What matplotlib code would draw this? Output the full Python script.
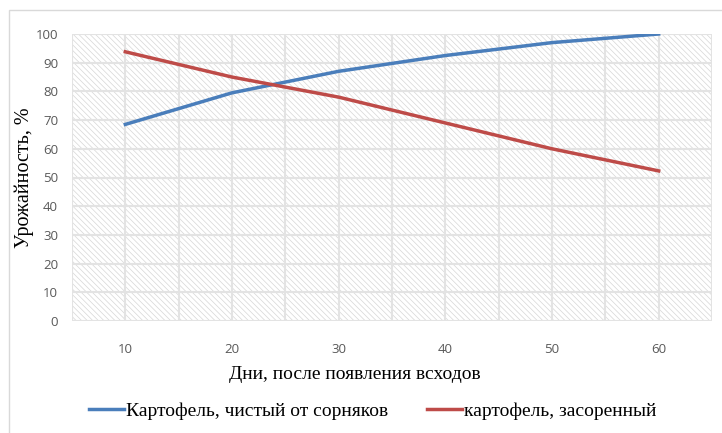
import matplotlib.pyplot as plt
from matplotlib.patches import Rectangle

days = [10, 20, 30, 40, 50, 60]
clean = [68.5, 79.5, 87, 92.5, 97, 100]
weedy = [93.8, 85, 78, 69, 60, 52.3]
labels = ['Картофель, чистый от сорняков', 'картофель, засоренный']

plt.rcParams['hatch.linewidth'] = 0.5
plt.rcParams['hatch.color'] = '#d6d6d6'

fig = plt.figure(figsize=(7.22, 4.33), dpi=100)
ax = fig.add_axes([72/722, 1-321/433, 640/722, 287/433])

# рамка вокруг диаграммы
fig.patches.append(Rectangle((9/722, -0.1), 1.2, 1-10/433+0.1, transform=fig.transFigure,
                             fill=False, edgecolor='#d9d9d9', linewidth=1))

ax.add_patch(Rectangle((0, 0), 1, 1, transform=ax.transAxes, facecolor='white',
                       edgecolor='#d6d6d6', hatch='\\\\\\\\\\\\', linewidth=0, zorder=0))

ax.plot(days, clean, color='#4a7ebb', linewidth=2.5, label=labels[0], zorder=3)
ax.plot(days, weedy, color='#be4b48', linewidth=2.5, label=labels[1], zorder=3)

ax.set_xlim(5, 65)
ax.set_ylim(0, 100)
ax.set_xticks(range(10, 61, 10))
ax.set_xticks(range(5, 66, 5), minor=True)
ax.set_yticks(range(0, 101, 10))
ax.grid(True, which='both', color='#e3e3e3', linewidth=1.5, zorder=1)
ax.set_axisbelow(True)
for s in ax.spines.values():
    s.set_visible(False)
ax.tick_params(which='both', length=0, colors='#595959', labelsize=9.5)
ax.tick_params(axis='x', pad=16)
ax.tick_params(axis='y', pad=10)
for t in ax.get_xticklabels() + ax.get_yticklabels():
    t.set_fontfamily('Open Sans')

ax.set_xlabel('Дни, после появления всходов', family='Liberation Serif', fontsize=14)
ax.xaxis.set_label_coords((355-72)/640, -0.158)
ax.set_ylabel('Урожайность, %', family='Liberation Serif', fontsize=14.5, labelpad=1)

fig.legend(loc='center', bbox_to_anchor=(373/722, 1-411/433), ncol=2, frameon=False,
           prop={'family': 'Liberation Serif', 'size': 14}, handlelength=1.8,
           handletextpad=0.1, columnspacing=2.0)

fig.savefig('out.png', dpi=100)
